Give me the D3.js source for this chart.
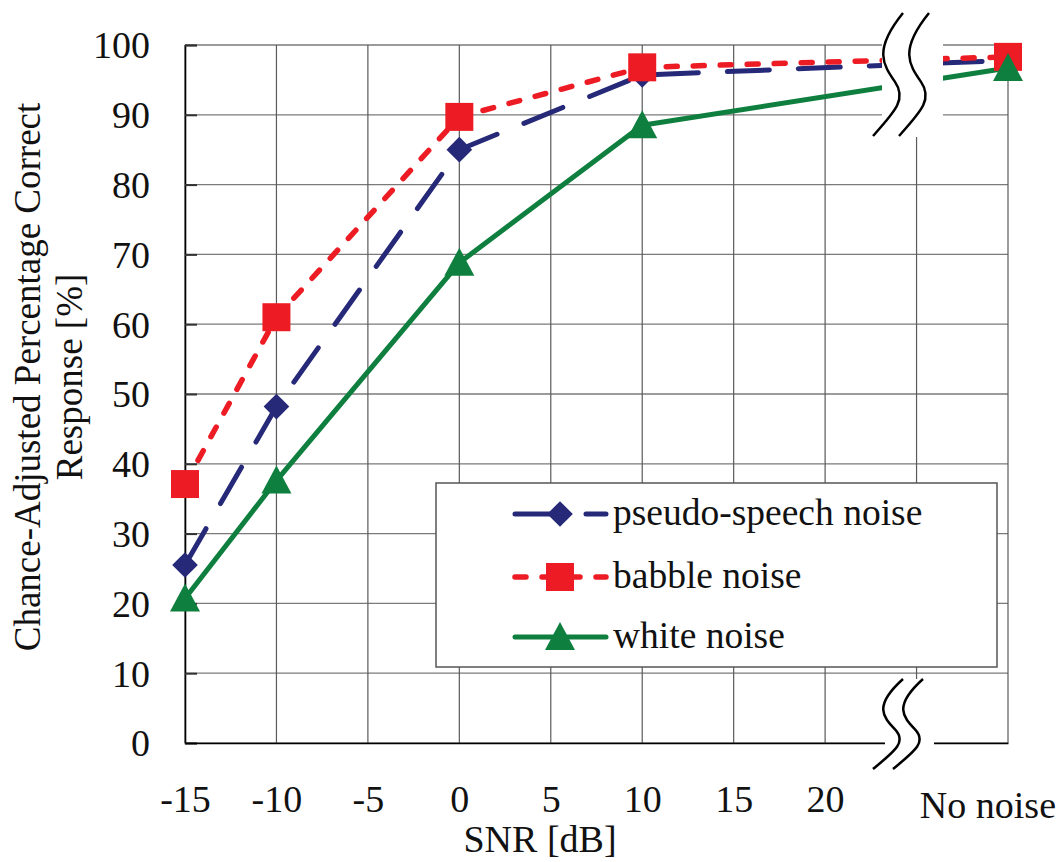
<!DOCTYPE html>
<html>
<head>
<meta charset="utf-8">
<script src="https://cdn.jsdelivr.net/npm/d3@7"></script>
<style>
  html, body { margin: 0; padding: 0; background: #fff; }
  svg { display: block; }
</style>
</head>
<body>
<svg id="chart" width="1061" height="862"></svg>
<script>
// ---- data ----
const xValues = [-15, -10, 0, 10, 30];            // 30 = "No noise" position
const pseudoSpeech = [25.5, 48.2, 85.0, 95.7, 97.8];
const babble = [37.1, 61.0, 89.7, 96.8, 98.3];
const white = [20.7, 37.6, 68.8, 88.5, 96.7];
const seriesNames = ["pseudo-speech noise", "babble noise", "white noise"];
const xTickValues = [-15, -10, -5, 0, 5, 10, 15, 20];
const xTickLabels = ["-15", "-10", "-5", "0", "5", "10", "15", "20"];
const xGridValues = [-15, -10, -5, 0, 5, 10, 15, 20, 25, 30];
const noNoiseLabel = "No noise";
const yTickValues = [0, 10, 20, 30, 40, 50, 60, 70, 80, 90, 100];
const xTitle = "SNR [dB]";
const yTitle1 = "Chance-Adjusted Percentage Correct";
const yTitle2 = "Response [%]";

// ---- layout ----
const FONT = "Liberation Serif";
const FS = 38;
const svg = d3.select("#chart");
const W = 1061, H = 862;
const x = d3.scaleLinear().domain([-15, 30]).range([185, 1008]);
const y = d3.scaleLinear().domain([0, 100]).range([743, 45]);

const colors = { navy: "#262878", red: "#ed1c24", green: "#0e7f3e" };

const series = [
  { name: seriesNames[0], values: pseudoSpeech, color: colors.navy, dash: "42,29", width: 5, marker: "diamond" },
  { name: seriesNames[1], values: babble, color: colors.red, dash: "11,16", width: 5.5, marker: "square" },
  { name: seriesNames[2], values: white, color: colors.green, dash: null, width: 5, marker: "triangle" }
];

// grid
const g = svg.append("g");
g.selectAll(".hgrid").data(yTickValues).enter().append("line")
  .attr("x1", x(-15)).attr("x2", x(30))
  .attr("y1", d => y(d)).attr("y2", d => y(d))
  .attr("stroke", "#7a7a7a").attr("stroke-width", 1.3);
g.selectAll(".vgrid").data(xGridValues).enter().append("line")
  .attr("x1", d => x(d)).attr("x2", d => x(d))
  .attr("y1", y(100)).attr("y2", y(0))
  .attr("stroke", "#5a5a5a").attr("stroke-width", 1.2);

// axes
const yAxis = d3.axisLeft(y).tickValues(yTickValues).tickSize(-12).tickPadding(35).tickFormat(d3.format("d"));
const ya = svg.append("g").attr("transform", `translate(${x(-15)},0)`).call(yAxis)
  .attr("font-family", FONT).attr("font-size", FS);
ya.select(".domain").attr("stroke", "#000").attr("stroke-width", 1.6);
ya.selectAll(".tick line").attr("stroke", "#333").attr("stroke-width", 2);
ya.selectAll(".tick text").attr("dy", "0.34em").style("font-family", FONT).attr("fill", "#111");

const xAxis = d3.axisBottom(x).tickValues(xTickValues).tickSize(0).tickPadding(42)
  .tickFormat((d, i) => xTickLabels[i]);
const xa = svg.append("g").attr("transform", `translate(0,${y(0)})`).call(xAxis)
  .attr("font-family", FONT).attr("font-size", FS);
xa.select(".domain").attr("stroke", "#000").attr("stroke-width", 1.6);
xa.selectAll(".tick text").style("font-family", FONT).attr("fill", "#111");

svg.append("text").attr("x", W - 5).attr("y", 818).attr("text-anchor", "end")
  .style("font-family", FONT).attr("font-size", FS).attr("fill", "#111").text(noNoiseLabel);

// lines
const line = d3.line().x((d, i) => x(xValues[i])).y(d => y(d));
series.forEach(s => {
  svg.append("path").datum(s.values)
    .attr("d", line).attr("fill", "none")
    .attr("stroke", s.color).attr("stroke-width", s.width)
    .attr("stroke-linecap", "round").attr("stroke-linejoin", "round")
    .attr("stroke-dasharray", s.dash);
});

function markerPath(type) {
  if (type === "diamond") return d3.symbol().type(d3.symbolDiamond2).size(420)();
  if (type === "square") return "M-14,-14H14V14H-14Z";
  return "M0,-15L15,13H-15Z";
}
series.forEach(s => {
  svg.selectAll(null).data(s.values).enter().append("path")
    .attr("d", markerPath(s.marker))
    .attr("transform", (d, i) => `translate(${x(xValues[i])},${y(d)})`)
    .attr("fill", s.color);
});

// axis break (top and bottom)
svg.append("rect").attr("x", 882).attr("y", 0).attr("width", 61).attr("height", 137).attr("fill", "#fff");
svg.append("rect").attr("x", 885).attr("y", 679).attr("width", 49).attr("height", 92).attr("fill", "#fff");
function squiggle(x0, y0, h) {
  return `M${x0},${y0} C${x0 - 30},${y0 + 0.3 * h} ${x0 - 20},${y0 + 0.42 * h} ${x0 - 8},${y0 + 0.56 * h} ` +
         `C${x0 + 4},${y0 + 0.7 * h} ${x0 - 8},${y0 + 0.8 * h} ${x0 - 30},${y0 + h}`;
}
[[903, 13, 123], [929, 13, 123], [903, 679, 90], [923, 679, 90]].forEach(p => {
  svg.append("path").attr("d", squiggle(p[0], p[1], p[2]))
    .attr("fill", "none").attr("stroke", "#000").attr("stroke-width", 2.5);
});

// legend
const lg = svg.append("g");
lg.append("rect").attr("x", 436).attr("y", 483).attr("width", 561).attr("height", 184)
  .attr("fill", "#fff").attr("stroke", "#555").attr("stroke-width", 1.5);
const legendRows = [514, 577, 637];
series.forEach((s, i) => {
  const ry = legendRows[i];
  lg.append("line").attr("x1", 515).attr("x2", 606).attr("y1", ry).attr("y2", ry)
    .attr("stroke", s.color).attr("stroke-width", s.width)
    .attr("stroke-linecap", "round").attr("stroke-dasharray", s.dash);
  lg.append("path").attr("d", markerPath(s.marker))
    .attr("transform", `translate(560,${ry})`).attr("fill", s.color);
  lg.append("text").attr("x", 613).attr("y", ry + 11)
    .style("font-family", FONT).attr("font-size", 37.5).attr("fill", "#111").text(s.name);
});

// titles
svg.append("text").attr("x", 540).attr("y", 852).attr("text-anchor", "middle")
  .style("font-family", FONT).attr("font-size", FS).attr("fill", "#111").text(xTitle);
svg.append("text").attr("transform", "translate(40,377) rotate(-90)").attr("text-anchor", "middle")
  .style("font-family", FONT).attr("font-size", 37).attr("fill", "#111").text(yTitle1);
svg.append("text").attr("transform", "translate(82,377) rotate(-90)").attr("text-anchor", "middle")
  .style("font-family", FONT).attr("font-size", 37).attr("fill", "#111").text(yTitle2);
</script>
</body>
</html>
